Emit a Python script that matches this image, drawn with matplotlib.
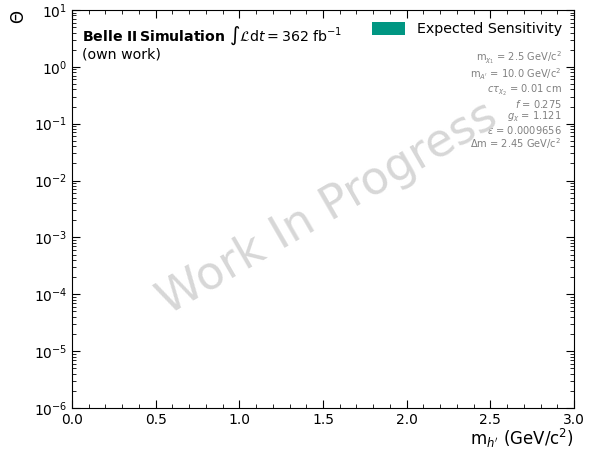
import numpy as np
import matplotlib
matplotlib.use("Agg")
import matplotlib.pyplot as plt
from matplotlib.ticker import MultipleLocator, LogLocator, FixedLocator, NullFormatter

# expected sensitivity band (no points passed the selection yet)
mass_points = np.array([])
theta_low = np.array([])
theta_high = np.array([])

# model parameters shown in the info box
param_lines = [
    r"m$_{\chi_1}$ = 2.5 GeV/c$^2$",
    r"m$_{A'}$ = 10.0 GeV/c$^2$",
    r"$c\tau_{\chi_2}$ = 0.01 cm",
    r"$f$ = 0.275",
    r"$g_\chi$ = 1.121",
    r"$\epsilon$ = 0.0009656",
    r"$\Delta$m = 2.45 GeV/c$^2$",
]

fig, ax = plt.subplots(figsize=(5.9, 4.5), dpi=100)
fig.subplots_adjust(left=0.122, right=0.973, top=0.978, bottom=0.093)

ax.fill_between(mass_points, theta_low, theta_high, color="#009682",
                label="Expected Sensitivity", linewidth=0)

ax.set_yscale("log")
ax.set_xlim(0, 3.0)
ax.set_ylim(1e-6, 1e1)

# log minor ticks 2..9 in every decade
minor_y = [m * 10.0 ** e for e in range(-6, 1) for m in range(2, 10)]

ax.xaxis.set_major_locator(MultipleLocator(0.5))
ax.xaxis.set_minor_locator(MultipleLocator(0.1))
ax.yaxis.set_major_locator(LogLocator(base=10.0, numticks=100))
ax.yaxis.set_minor_locator(FixedLocator(minor_y))
ax.yaxis.set_minor_formatter(NullFormatter())
ax.tick_params(which="both", direction="in", top=True, right=True, labelsize=10)
ax.tick_params(which="major", length=6)
ax.tick_params(which="minor", length=3)

ax.set_xlabel(r"m$_{h'}$ (GeV/c$^2$)", loc="right", fontsize=12, labelpad=0)
ax.set_ylabel(r"$\Theta$", loc="top", fontsize=12)

ax.text(0.02, 0.963, r"$\bf{Belle\ II\,Simulation}$ $\int\mathcal{L}\mathrm{d}t = 362\ \mathrm{fb}^{-1}$",
        transform=ax.transAxes, fontsize=10.2, va="top")
ax.text(0.02, 0.905, "(own work)", transform=ax.transAxes, fontsize=10.2, va="top")

ax.legend(loc="upper right", frameon=False, fontsize=10.3, handlelength=2.3,
          handleheight=1.0, borderaxespad=0.45)

ax.text(0.975, 0.9, "\n".join(param_lines), transform=ax.transAxes,
        ha="right", va="top", fontsize=7.1, color="gray", linespacing=1.02)

ax.text(0.51, 0.5, "Work In Progress", transform=ax.transAxes, fontsize=33,
        color="lightgray", alpha=0.9, rotation=30, ha="center", va="center")

fig.savefig("out.png")
